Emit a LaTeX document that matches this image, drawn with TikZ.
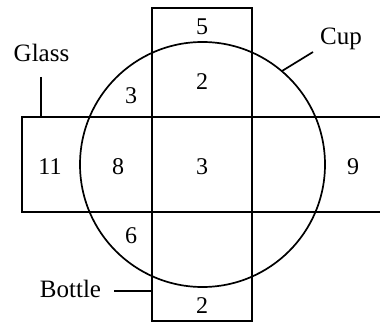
\documentclass[tikz,border=0pt]{standalone}
\usepackage{fontspec}
\setmainfont{Liberation Serif}
\usetikzlibrary{positioning}
\tikzset{
  region/.style={draw=black,line width=1.7pt},
  leader/.style={draw=black,line width=1.7pt},
  num/.style={font=\fontsize{24}{24}\selectfont,inner sep=0pt,anchor=base},
  setname/.style={font=\fontsize{25}{25}\selectfont,inner sep=0pt,anchor=base}
}

\begin{document}
\begin{tikzpicture}[x=1pt,y=-1pt]
  \useasboundingbox (0,0) rectangle (380,323);
  % the three sets
  \draw[region] (381,117) -- (22,117) -- (22,212) -- (381,212);
  \draw[region] (152,8) rectangle (252,321);
  \draw[region] (202.5,164.5) circle[radius=122.5pt];
  % counts
  \node[num] (onlyBottleTop) at (202,35) {5};
  \node[num] (cupBottle) at (202,90) {2};
  \node[num] (cupGlassTop) at (131,104) {3};
  \node[num] (onlyGlass) at (50,175) {11};
  \node[num] (cupGlass) at (118,175) {8};
  \node[num] (allThree) at (202,175) {3};
  \node[num] (glassRight) at (353,175) {9};
  \node[num] (onlyCup) at (131,243) {6};
  \node[num] (onlyBottleLow) at (202,313) {2};
  % set names
  \node[setname] (glass) at (41.5,62) {Glass};
  \node[setname] (cup) at (341,45) {Cup};
  \node[setname] (bottle) at (70.5,297) {Bottle};
  \coordinate (glassTip) at (41,77);
  \coordinate (glassFoot) at (41,117);
  \coordinate (cupTip) at (313,52);
  \coordinate (cupFoot) at (282,71);
  \coordinate (bottleTip) at (114,291);
  \coordinate (bottleFoot) at (152,291);
  \draw[leader] (glassTip) -- (glassFoot);
  \draw[leader] (cupTip) -- (cupFoot);
  \draw[leader] (bottleTip) -- (bottleFoot);
\end{tikzpicture}
\end{document}
